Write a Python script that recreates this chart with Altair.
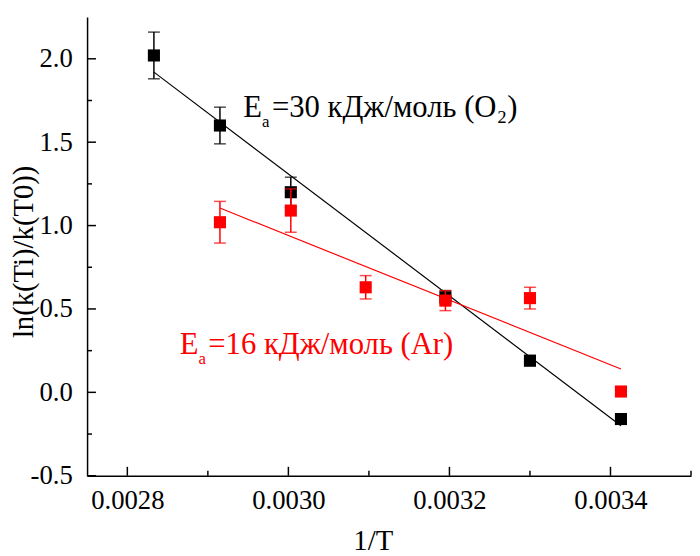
import altair as alt
import pandas as pd

# ---- data ----
inv_T_o2 = [0.002833, 0.002915, 0.003003, 0.003195, 0.003300, 0.003413]
ln_o2 = [2.02, 1.60, 1.20, 0.57, 0.19, -0.16]
err_o2 = [0.14, 0.11, 0.09, 0.04, 0.03, 0.03]

inv_T_ar = [0.002915, 0.003003, 0.003096, 0.003195, 0.003300, 0.003413]
ln_ar = [1.02, 1.09, 0.63, 0.55, 0.565, 0.005]
err_ar = [0.125, 0.13, 0.07, 0.06, 0.065, 0.02]

fit_o2_x = [0.002833, 0.003413]
fit_o2_y = [1.92, -0.20]
fit_ar_x = [0.002915, 0.003413]
fit_ar_y = [1.105, 0.14]

x_major = [0.0028, 0.0030, 0.0032, 0.0034]
x_minor = [0.0029, 0.0031, 0.0033, 0.0035]
y_major = [-0.5, 0.0, 0.5, 1.0, 1.5, 2.0]
y_minor = [-0.25, 0.25, 0.75, 1.25, 1.75]

labels_head = ["E", "E"]
labels_sub = ["а", "а"]
labels_rest = ["=30 кДж/моль (O₂)", "=16 кДж/моль (Ar)"]
labels_x = [0.002944, 0.002865]
labels_y = [1.649, 0.232]
labels_color = ["black", "red"]

FONT = "Liberation Serif, Times New Roman, serif"
X_TITLE = "1/T"
Y_TITLE = "ln(k(Ti)/k(T0))"

xs = alt.Scale(domain=[0.00275, 0.0035], nice=False, zero=False)
ys = alt.Scale(domain=[-0.5, 2.25], nice=False, zero=False)

pts = pd.DataFrame(
    {"x": inv_T_o2 + inv_T_ar,
     "y": ln_o2 + ln_ar,
     "lo": [v - e for v, e in zip(ln_o2, err_o2)] + [v - e for v, e in zip(ln_ar, err_ar)],
     "hi": [v + e for v, e in zip(ln_o2, err_o2)] + [v + e for v, e in zip(ln_ar, err_ar)],
     "s": ["O2"] * len(inv_T_o2) + ["Ar"] * len(inv_T_ar)}
)
o2 = pts[pts.s == "O2"]
ar = pts[pts.s == "Ar"]

x_axis = alt.Axis(values=x_major, format=".4f", title=X_TITLE, titleX=289, titleY=75,
                  titleAlign="center", titleBaseline="alphabetic", labelPadding=12)
y_axis = alt.Axis(values=y_major, title=Y_TITLE,
                  labelExpr="replace(format(datum.value, '.1f'), '\u2212', '-')",
                  titleAngle=270, titleX=-64, titleY=237, titleAlign="center",
                  titleBaseline="middle", labelPadding=15)


def X(field):
    return alt.X(field, scale=xs, axis=x_axis, title=X_TITLE)


def Y(field):
    return alt.Y(field, scale=ys, axis=y_axis, title=Y_TITLE)


def series(df, color):
    err = alt.Chart(df).mark_errorbar(ticks={"size": 12, "thickness": 1.5}, thickness=1.5, color=color).encode(
        x=X("x:Q"), y=Y("lo:Q"), y2="hi:Q")
    sq = alt.Chart(df).mark_square(size=150, opacity=1, color=color).encode(
        x=X("x:Q"), y=Y("y:Q"))
    return err + sq


fit_o2 = alt.Chart(pd.DataFrame({"x": fit_o2_x, "y": fit_o2_y})).mark_line(
    color="black", strokeWidth=1.2).encode(x=X("x:Q"), y=Y("y:Q"))
fit_ar = alt.Chart(pd.DataFrame({"x": fit_ar_x, "y": fit_ar_y})).mark_line(
    color="red", strokeWidth=1.2).encode(x=X("x:Q"), y=Y("y:Q"))

# inward ticks
ytick_major = alt.Chart(pd.DataFrame({"v": y_major})).mark_rule(color="black", strokeWidth=1.5).encode(
    y=Y("v:Q"), x=alt.value(0), x2=alt.value(9))
ytick_minor = alt.Chart(pd.DataFrame({"v": y_minor})).mark_rule(color="black", strokeWidth=1.5).encode(
    y=Y("v:Q"), x=alt.value(0), x2=alt.value(5))
xtick_major = alt.Chart(pd.DataFrame({"v": x_major})).mark_rule(color="black", strokeWidth=1.5).encode(
    x=X("v:Q"), y=alt.value(464), y2=alt.value(455))
xtick_minor = alt.Chart(pd.DataFrame({"v": x_minor})).mark_rule(color="black", strokeWidth=1.5).encode(
    x=X("v:Q"), y=alt.value(464), y2=alt.value(459))

ann_df = pd.DataFrame({"x": labels_x, "y": labels_y, "h": labels_head, "s": labels_sub,
                       "r": labels_rest, "c": labels_color})


def ann_piece(field, size, dx, dy):
    return alt.Chart(ann_df).mark_text(
        align="left", baseline="alphabetic", font=FONT, fontSize=size, dx=dx, dy=dy).encode(
        x=X("x:Q"), y=Y("y:Q"), text=f"{field}:N",
        color=alt.Color("c:N", scale=None))


ann = ann_piece("h", 31, 0, 0) + ann_piece("s", 17, 19, 10) + ann_piece("r", 31, 29, 0)

chart = alt.layer(
    fit_o2, fit_ar,
    series(o2, "black"), series(ar, "red"),
    ytick_major, ytick_minor, xtick_major, xtick_minor,
    ann,
).properties(
    width=611, height=464,
    autosize=alt.AutoSizeParams(type="none"),
    padding={"left": 80, "top": 6, "right": 1, "bottom": 78},
).configure_view(stroke=None).configure_axis(
    grid=False, ticks=False, tickSize=0, domainColor="black", domainWidth=1.5,
    labelFont=FONT, labelFontSize=27, labelColor="black",
    titleFont=FONT, titleFontSize=29, titleFontWeight="normal", titleColor="black",
)

chart.save("out.html", embed_options={"renderer": "svg", "actions": False})
